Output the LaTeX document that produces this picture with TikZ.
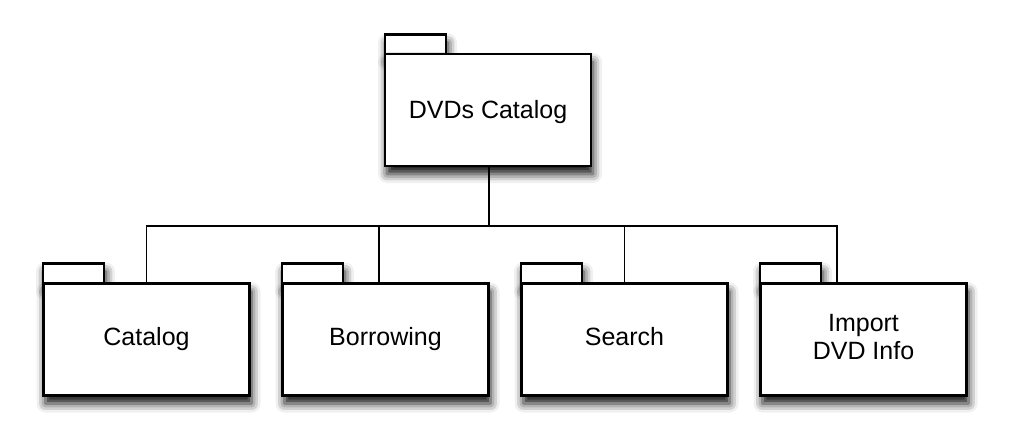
\documentclass[tikz,border=0pt]{standalone}
\usepackage{fontspec}
\setmainfont{Liberation Sans}
\usetikzlibrary{shadows.blur}
\begin{document}
\begin{tikzpicture}[x=1pt,y=-1pt,
  shad/.style={blur shadow={shadow xshift=2pt,shadow yshift=-8pt,shadow blur radius=9pt,shadow opacity=95}},
  pkgbody/.style={draw,line width=2.2pt,fill=white,shad,minimum width=206pt,minimum height=112pt,inner sep=0pt,align=center,font=\fontsize{25}{28}\selectfont},
  pkgtab/.style={draw,line width=2.2pt,fill=white,shad,minimum width=61pt,minimum height=19.5pt,inner sep=0pt,outer sep=0pt,anchor=south west},
  conn/.style={draw,line width=1.4pt}]
\useasboundingbox (0,0) rectangle (1009,446);
% tabs
\node[pkgtab] (toptab) at (385,54) {};
\node[pkgtab] (cattab) at (43,283) {};
\node[pkgtab] (bortab) at (282,283) {};
\node[pkgtab] (seatab) at (521,283) {};
\node[pkgtab] (imptab) at (760,283) {};
% bodies
\node[pkgbody] (top) at (488,110) {\strut\raisebox{-3pt}[0pt][0pt]{DVDs Catalog}};
\node[pkgbody] (cat) at (146.5,339.5) {\strut Catalog};
\node[pkgbody] (bor) at (385.5,339.5) {\strut Borrowing};
\node[pkgbody] (sea) at (624.5,339.5) {\strut Search};
\node[pkgbody] (imp) at (863.5,339.5) {\strut Import\\\strut DVD Info};
% connectors
\coordinate (j) at (489,226);
\draw[conn] ([xshift=1pt]top.south) -- (j);
\draw[conn] (cat.north) -- (cat.north |- j) -- ([xshift=-26.5pt]imp.north |- j) -- ([xshift=-26.5pt]imp.north);
\draw[conn] ([xshift=-6.5pt]bor.north) -- ([xshift=-6.5pt]bor.north |- j);
\draw[conn] (sea.north) -- (sea.north |- j);
\end{tikzpicture}
\end{document}
